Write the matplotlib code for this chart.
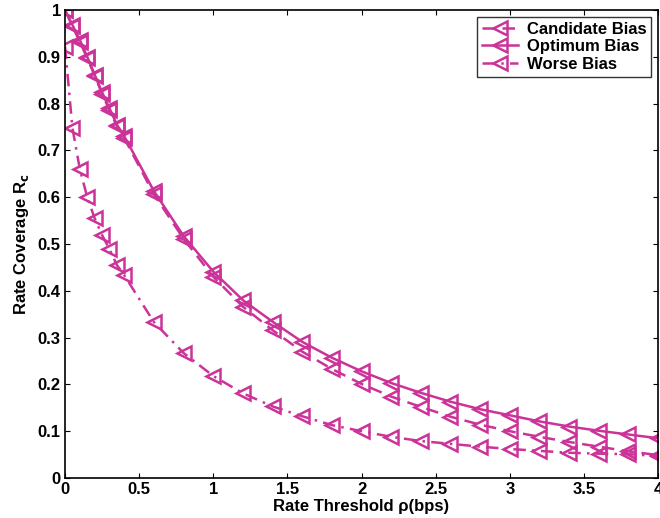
import numpy as np
import matplotlib
matplotlib.use("Agg")
import matplotlib.pyplot as plt
from matplotlib.ticker import FuncFormatter

plt.rcParams['font.family'] = ['Liberation Sans', 'DejaVu Sans']
plt.rcParams['font.weight'] = 'bold'

rho = [0, 0.05, 0.1, 0.15, 0.2, 0.25, 0.3, 0.35, 0.4, 0.6, 0.8, 1.0, 1.2, 1.4,
       1.6, 1.8, 2.0, 2.2, 2.4, 2.6, 2.8, 3.0, 3.2, 3.4, 3.6, 3.8, 4.0]

candidate = [1.0, 0.965, 0.932, 0.897, 0.86, 0.821, 0.786, 0.752, 0.726, 0.606,
             0.511, 0.43, 0.366, 0.316, 0.27, 0.233, 0.201, 0.174, 0.152, 0.131,
             0.114, 0.1, 0.088, 0.077, 0.067, 0.057, 0.049]
optimum = [1.0, 0.968, 0.936, 0.9, 0.862, 0.824, 0.79, 0.755, 0.73, 0.613,
           0.517, 0.441, 0.38, 0.334, 0.291, 0.257, 0.228, 0.203, 0.182, 0.163,
           0.147, 0.134, 0.121, 0.11, 0.101, 0.093, 0.085]
worse = [0.922, 0.748, 0.66, 0.6, 0.555, 0.519, 0.489, 0.455, 0.433, 0.333,
         0.267, 0.218, 0.181, 0.153, 0.132, 0.113, 0.1, 0.088, 0.079, 0.073,
         0.067, 0.062, 0.058, 0.054, 0.052, 0.051, 0.047]

color = '#cc3399'

fig = plt.figure(figsize=(6.6, 5.18), dpi=100)
ax = fig.add_axes([0.0985, 0.0772, 0.8985, 0.9035])

style = dict(color=color, marker='<', markersize=10, markerfacecolor='none',
             markeredgewidth=1.8, linewidth=1.8)
ax.plot(rho, candidate, linestyle=(0, (5, 3)), label='Candidate Bias', **style)
ax.plot(rho, optimum, linestyle='-', label='Optimum Bias', **style)
ax.plot(rho, worse, linestyle=(0, (5, 2.5, 1, 2.5)), label='Worse Bias', **style)

ax.set_xlim(0, 4)
ax.set_ylim(0, 1)
ax.set_xticks(np.arange(0, 4.01, 0.5))
ax.set_yticks(np.arange(0, 1.01, 0.1))
fmt = FuncFormatter(lambda v, p: ('%g' % round(v, 2)))
ax.xaxis.set_major_formatter(fmt)
ax.yaxis.set_major_formatter(fmt)
ax.tick_params(direction='in', top=True, right=True, labelsize=12, pad=3)
for lab in ax.get_xticklabels() + ax.get_yticklabels():
    lab.set_fontweight('bold')
for s in ax.spines.values():
    s.set_linewidth(1.2)

ax.set_xlabel('Rate Threshold ρ(bps)', fontsize=12, fontweight='bold', labelpad=1)
ax.set_ylabel(r'Rate Coverage R$_\mathbf{c}$', fontsize=12, fontweight='bold', labelpad=5)

leg = ax.legend(loc='upper right', fontsize=12, frameon=True, fancybox=False,
                edgecolor='black', borderaxespad=0.4, handlelength=2.2,
                borderpad=0.3, labelspacing=0.15, handletextpad=0.5)
leg.get_frame().set_linewidth(1.0)
for t in leg.get_texts():
    t.set_fontweight('bold')

fig.savefig('out.png', dpi=100)
